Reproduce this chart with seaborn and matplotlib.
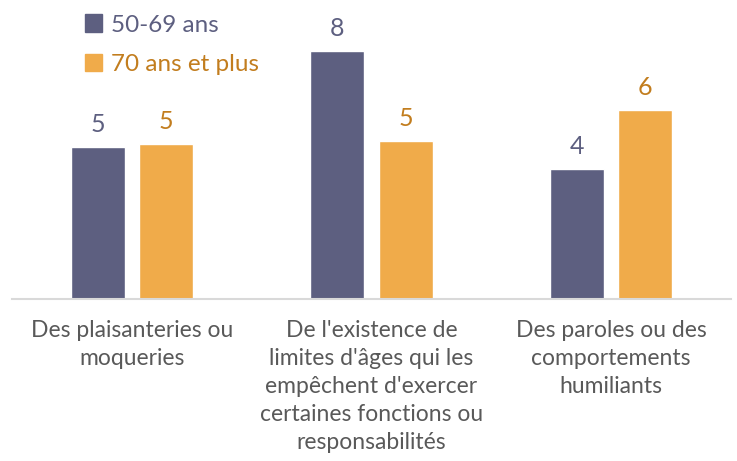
import pandas as pd
import matplotlib
matplotlib.use("Agg")
import matplotlib.pyplot as plt
import seaborn as sns
from matplotlib.patches import Patch

# Données
categories = [
    "Des plaisanteries ou\nmoqueries",
    "De l'existence de\nlimites d'âges qui les\nempêchent d'exercer\ncertaines fonctions ou\nresponsabilités",
    "Des paroles ou des\ncomportements\nhumiliants",
]
series = ["50-69 ans", "70 ans et plus"]
values_50_69 = [4.9, 8.0, 4.2]
values_70_plus = [5.0, 5.1, 6.1]

colors = ["#5d5f80", "#f0ab4a"]
text_colors = ["#5d5f80", "#c27d1e"]

df = pd.DataFrame({
    "categorie": categories * 2,
    "groupe": [series[0]] * 3 + [series[1]] * 3,
    "valeur": values_50_69 + values_70_plus,
})

sns.set_style("white")
plt.rcParams["font.family"] = ["Lato", "DejaVu Sans"]

fig = plt.figure(figsize=(7.37, 4.61), dpi=100)
ax = fig.add_axes([0.0163, 0.352, 0.9756, 0.648])

sns.barplot(data=df, x="categorie", y="valeur", hue="groupe",
            palette=colors, width=0.568, gap=0.207, ax=ax,
            legend=False, saturation=1)

for cont, tc in zip(ax.containers, text_colors):
    ax.bar_label(cont, labels=[f"{v:.0f}" for v in cont.datavalues],
                 padding=8, fontsize=18, color=tc)

ax.set_xlim(-0.5, 2.5)
ax.set_ylim(0, 9.66)
ax.set_xlabel("")
ax.set_ylabel("")
ax.set_yticks([])
ax.tick_params(axis="x", length=0, pad=15, labelsize=16.5, labelcolor="#595959")
for lab in ax.get_xticklabels():
    lab.set_linespacing(1.42)

for s in ["top", "right", "left"]:
    ax.spines[s].set_visible(False)
ax.spines["bottom"].set_color("#d9d9d9")
ax.spines["bottom"].set_linewidth(1.5)

# Légende
handles = [Patch(color=c) for c in colors]
leg = fig.legend(handles, series, loc="upper left", bbox_to_anchor=(0.086, 1.016),
                 frameon=False, handlelength=0.7, handleheight=0.7,
                 handletextpad=0.35, labelspacing=0.76, labelcolor=text_colors,
                 prop={"size": 17.5})

fig.savefig("out.png", dpi=100)
